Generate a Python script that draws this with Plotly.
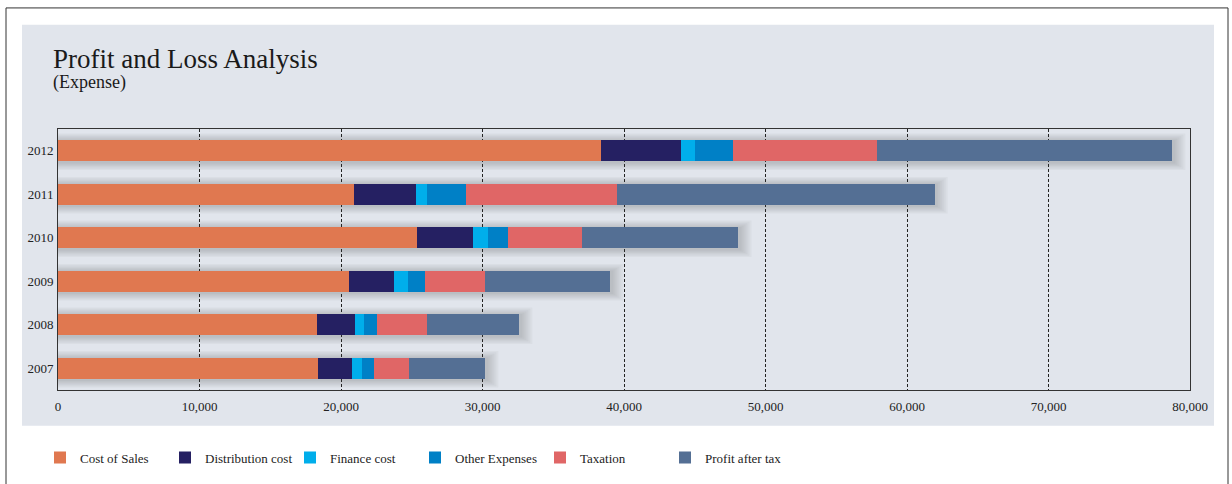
"""
Profit and Loss Analysis (Expense) - stacked horizontal bar chart.
"""

from typing import List

import plotly.graph_objects as go  # pylint: disable=import-error

YEARS = ["2007", "2008", "2009", "2010", "2011", "2012"]
COST_OF_SALES = [18390, 18290, 20580, 25390, 20930, 38400]
DISTRIBUTION_COST = [2400, 2710, 3180, 3960, 4400, 5600]
FINANCE_COST = [710, 640, 990, 1060, 780, 1000]
OTHER_EXPENSES = [850, 920, 1200, 1410, 2700, 2700]
TAXATION = [2470, 3540, 4250, 5240, 10660, 10200]
PROFIT_AFTER_TAX = [5380, 6500, 8840, 11030, 22490, 20850]
X_TICKS = [0, 10000, 20000, 30000, 40000, 50000, 60000, 70000, 80000]

SERIES = [
    ("Cost of Sales", COST_OF_SALES, "#e07850"),
    ("Distribution cost", DISTRIBUTION_COST, "#252062"),
    ("Finance cost", FINANCE_COST, "#00aeeb"),
    ("Other Expenses", OTHER_EXPENSES, "#0080c6"),
    ("Taxation", TAXATION, "#e06666"),
    ("Profit after tax", PROFIT_AFTER_TAX, "#546f94"),
]

FONT = "Liberation Serif, DejaVu Serif, serif"
WIDTH, HEIGHT = 1232, 484
MARGIN = {"l": 58, "r": 42, "t": 129, "b": 92, "pad": 0}
PLOT_W = WIDTH - MARGIN["l"] - MARGIN["r"]
PLOT_H = HEIGHT - MARGIN["t"] - MARGIN["b"]
BAR_WIDTH = 0.48


def _px_to_paper_x(px: float) -> float:
    """Converts a pixel column of the page into paper x."""
    return (px - MARGIN["l"]) / PLOT_W


def _px_to_paper_y(py: float) -> float:
    """Converts a pixel row of the page into paper y."""
    return (HEIGHT - MARGIN["b"] - py) / PLOT_H


def _totals() -> List[int]:
    """Sum of every series for each year."""
    return [sum(vals) for vals in zip(*(s[1] for s in SERIES))]


def _add_frame(fig: go.Figure) -> None:
    """Draws the outer border and the grey panel behind the chart."""
    fig.add_shape(
        type="rect", xref="paper", yref="paper", layer="below",
        x0=_px_to_paper_x(6), x1=_px_to_paper_x(1228),
        y0=_px_to_paper_y(HEIGHT + 10), y1=_px_to_paper_y(7),
        line={"color": "#333333", "width": 1}, fillcolor="white"
    )
    fig.add_shape(
        type="rect", xref="paper", yref="paper", layer="below",
        x0=_px_to_paper_x(22), x1=_px_to_paper_x(1214),
        y0=_px_to_paper_y(428), y1=_px_to_paper_y(24),
        line={"width": 0}, fillcolor="#e1e5ec"
    )


def _add_bar_shadows(fig: go.Figure) -> None:
    """Soft drop shadow behind each stacked bar."""
    unit_x = X_TICKS[-1] / PLOT_W
    unit_y = len(YEARS) / PLOT_H
    for i, total in enumerate(_totals()):
        for k in range(1, 7):
            fig.add_shape(
                type="rect", xref="x", yref="y", layer="between",
                x0=0, x1=total + (1 + 2 * k) * unit_x,
                y0=i - BAR_WIDTH / 2 - (1 + 1.3 * k) * unit_y,
                y1=i + BAR_WIDTH / 2 + (1.3 * k - 1) * unit_y,
                line={"width": 0}, fillcolor="rgba(60,60,70,0.045)"
            )


def _add_traces(fig: go.Figure) -> None:
    """Adds the stacked bar series."""
    for name, values, color in SERIES:
        fig.add_trace(go.Bar(
            y=YEARS, x=values, name=name, orientation="h",
            marker={"color": color, "line": {"width": 0}}
        ))


def _add_titles(fig: go.Figure) -> None:
    """Title and subtitle in the top-left of the panel."""
    fig.add_annotation(
        text="Profit and Loss Analysis", xref="paper", yref="paper",
        x=_px_to_paper_x(51), y=_px_to_paper_y(58), xanchor="left", yanchor="middle",
        showarrow=False, font={"family": FONT, "size": 27, "color": "#1a1a1a"}
    )
    fig.add_annotation(
        text="(Expense)", xref="paper", yref="paper",
        x=_px_to_paper_x(51), y=_px_to_paper_y(82), xanchor="left", yanchor="middle",
        showarrow=False, font={"family": FONT, "size": 18, "color": "#1a1a1a"}
    )


def _update_layout(fig: go.Figure) -> None:
    """Axes, legend and page settings."""
    fig.update_layout(
        width=WIDTH, height=HEIGHT, margin=MARGIN,
        barmode="stack", bargap=1 - BAR_WIDTH,
        paper_bgcolor="white", plot_bgcolor="rgba(0,0,0,0)",
        font={"family": FONT, "size": 13, "color": "#222222"},
        showlegend=True,
        legend={
            "orientation": "h", "x": _px_to_paper_x(40), "xanchor": "left",
            "y": _px_to_paper_y(460), "yanchor": "middle",
            "traceorder": "normal", "entrywidth": 80, "entrywidthmode": "pixels",
            "font": {"family": FONT, "size": 13, "color": "#222222"},
            "itemclick": False, "bgcolor": "rgba(0,0,0,0)"
        }
    )
    fig.update_xaxes(
        range=[X_TICKS[0], X_TICKS[-1]], tickvals=X_TICKS, tickformat=",",
        showgrid=True, gridcolor="#222222", gridwidth=1, griddash="3px,2px",
        zeroline=False, showline=True, mirror=True, linecolor="#333333", linewidth=1,
        ticks="", ticklabelstandoff=4, tickfont={"size": 13}
    )
    fig.update_yaxes(
        type="category", categoryorder="array", categoryarray=YEARS,
        showgrid=False, zeroline=False, showline=True, mirror=True,
        linecolor="#333333", linewidth=1, ticks="", ticklabelstandoff=1,
        tickfont={"size": 13}
    )


def create_chart() -> go.Figure:
    """Builds the full figure."""
    fig = go.Figure()
    _add_frame(fig)
    _add_bar_shadows(fig)
    _add_traces(fig)
    _add_titles(fig)
    _update_layout(fig)
    return fig


create_chart().write_html(
    "out.html",
    config={"displayModeBar": False},
    post_script="document.body.style.margin='0';document.body.style.overflow='hidden';"
)
